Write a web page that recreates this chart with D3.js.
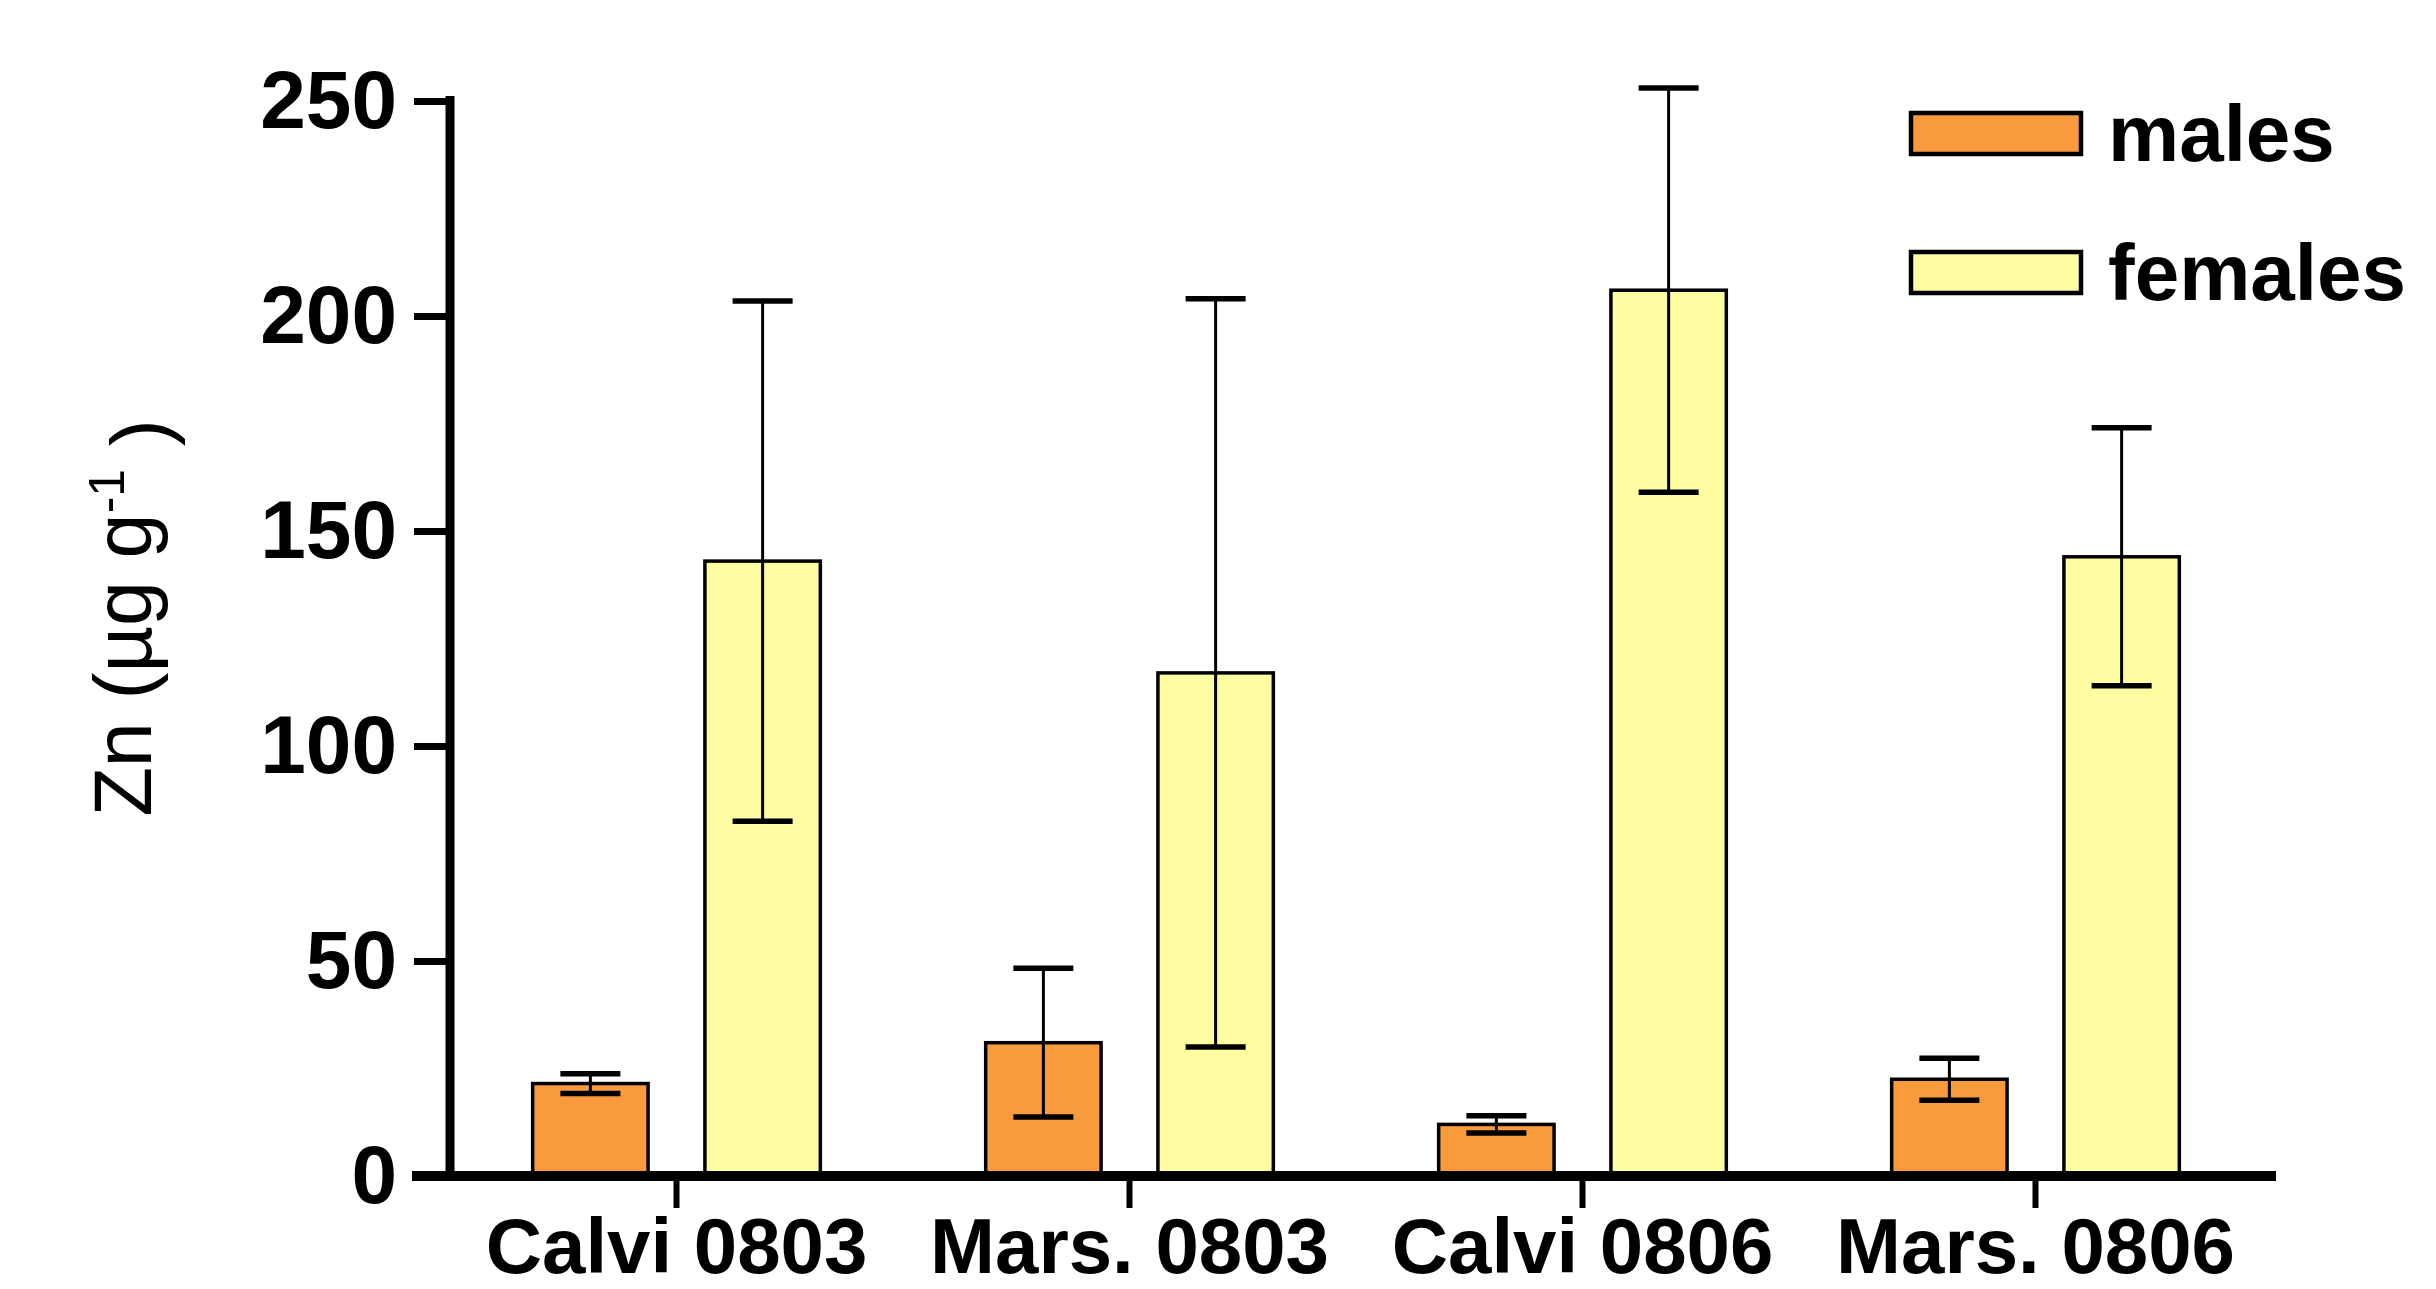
<!DOCTYPE html>
<html lang="en">
<head>
<meta charset="UTF-8">
<title>Zn males / females</title>
<style>
    * { margin: 0; padding: 0; }
    body { background: #ffffff; }
    text { font-family: "Liberation Sans", Arial, sans-serif; fill: #000; }
</style>
</head>
<body>
<div id="container"></div>

<script src="https://cdn.jsdelivr.net/npm/d3@7/dist/d3.min.js"></script>
<script>
    "use strict";

    // data
    var categories = ['Calvi 0803', 'Mars. 0803', 'Calvi 0806', 'Mars. 0806'];
    var series = ['males', 'females'];
    var maleMeans = [21.5, 31, 12, 22.5];
    var maleErr = [2.3, 17.3, 2, 4.9];
    var femaleMeans = [143, 117, 206, 144];
    var femaleErr = [60.5, 87, 47, 30];
    var yTicks = [0, 50, 100, 150, 200, 250];
    var colors = ['#F99B3C', '#FFFDA2'];

    (function () {

        var width = 2436,
            height = 1289;

        var svg = d3.select('#container')
            .append('svg')
            .attr('width', width)
            .attr('height', height);

        var y = d3.scaleLinear()
            .domain([0, 250])
            .range([1176, 101]);

        // groups
        var x = d3.scaleBand()
            .domain(categories)
            .range([450, 2262])
            .padding(0);

        // males / females inside a group
        var sub = d3.scaleBand()
            .domain(series)
            .range([0, x.bandwidth()])
            .paddingInner(0.33)
            .paddingOuter(0.48);

        var color = d3.scaleOrdinal().domain(series).range(colors);

        var rows = [];
        categories.forEach(function (c, i) {
            rows.push({cat: c, s: 'males', v: maleMeans[i], e: maleErr[i]});
            rows.push({cat: c, s: 'females', v: femaleMeans[i], e: femaleErr[i]});
        });

        // bars
        svg.append('g')
            .selectAll('rect')
            .data(rows)
            .enter()
            .append('rect')
            .attr('x', function (d) { return x(d.cat) + sub(d.s); })
            .attr('y', function (d) { return y(d.v); })
            .attr('width', sub.bandwidth())
            .attr('height', function (d) { return y(0) - y(d.v); })
            .style('fill', function (d) { return color(d.s); })
            .style('stroke', '#000')
            .style('stroke-width', 3.5);

        // error bars
        var capW = 30;
        var err = svg.append('g')
            .selectAll('g')
            .data(rows)
            .enter()
            .append('g')
            .attr('transform', function (d) {
                return 'translate(' + (x(d.cat) + sub(d.s) + sub.bandwidth() / 2) + ',0)';
            });

        err.append('line')
            .attr('x1', 0).attr('x2', 0)
            .attr('y1', function (d) { return y(d.v + d.e); })
            .attr('y2', function (d) { return y(d.v - d.e); })
            .style('stroke', '#000')
            .style('stroke-width', 3);

        err.append('line')
            .attr('x1', -capW).attr('x2', capW)
            .attr('y1', function (d) { return y(d.v + d.e); })
            .attr('y2', function (d) { return y(d.v + d.e); })
            .style('stroke', '#000')
            .style('stroke-width', 5.5);

        err.append('line')
            .attr('x1', -capW).attr('x2', capW)
            .attr('y1', function (d) { return y(d.v - d.e); })
            .attr('y2', function (d) { return y(d.v - d.e); })
            .style('stroke', '#000')
            .style('stroke-width', 5.5);

        // y axis
        var yAxis = svg.append('g')
            .attr('transform', 'translate(450,0)')
            .call(d3.axisLeft(y)
                .tickValues(yTicks)
                .tickSize(36)
                .tickSizeOuter(0)
                .tickPadding(17));

        yAxis.select('.domain')
            .attr('d', 'M0,' + (y(0) + 5) + 'V' + (y(250) - 5))
            .style('stroke', '#000')
            .style('stroke-width', 9);
        yAxis.selectAll('.tick line').style('stroke', '#000').style('stroke-width', 7);
        yAxis.selectAll('.tick text')
            .style('font-size', '82px')
            .style('font-weight', 'bold')
            .attr('fill', '#000');

        // x axis
        var xAxis = svg.append('g')
            .attr('transform', 'translate(0,' + y(0) + ')')
            .call(d3.axisBottom(x)
                .tickSize(32)
                .tickSizeOuter(0));

        xAxis.select('.domain')
            .attr('d', 'M412,0H2276')
            .style('stroke', '#000')
            .style('stroke-width', 10);
        xAxis.selectAll('.tick line').style('stroke', '#000').style('stroke-width', 6);
        xAxis.selectAll('.tick text')
            .attr('y', 97)
            .attr('dy', 0)
            .style('font-size', '78px')
            .style('font-weight', 'bold')
            .attr('fill', '#000');

        // y label
        var yl = svg.append('text')
            .attr('transform', 'translate(151,618) rotate(-90)')
            .attr('text-anchor', 'middle')
            .style('font-size', '81px');
        yl.append('tspan').text('Zn (\u00b5g g');
        yl.append('tspan').attr('dy', '-0.55em').style('font-size', '50px').text('-1');
        yl.append('tspan').attr('dy', '0.55em').text(' )');

        // legend
        var legend = svg.append('g')
            .selectAll('g')
            .data(series)
            .enter()
            .append('g')
            .attr('transform', function (d, i) { return 'translate(1911,' + (113 + i * 139) + ')'; });

        legend.append('rect')
            .attr('width', 170)
            .attr('height', 41)
            .style('fill', function (d) { return color(d); })
            .style('stroke', '#000')
            .style('stroke-width', 4.5);

        legend.append('text')
            .attr('x', 197)
            .attr('y', 48)
            .style('font-size', '80px')
            .style('font-weight', 'bold')
            .text(function (d) { return d; });

    })();
</script>
</body>
</html>
